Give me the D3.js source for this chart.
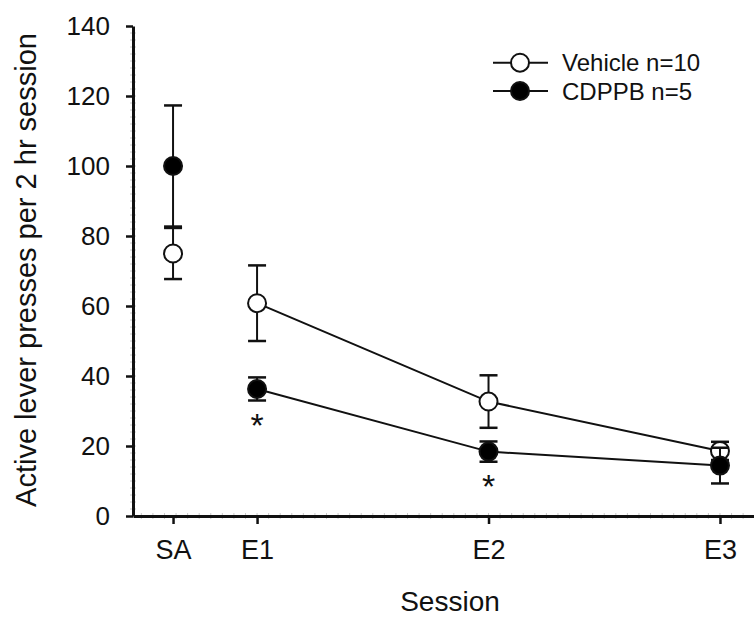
<!DOCTYPE html>
<html>
<head>
<meta charset="utf-8">
<script src="https://cdn.jsdelivr.net/npm/d3@7"></script>
<style>
  body { margin: 0; background: #fff; }
  text { font-family: "Liberation Sans", Arial, sans-serif; fill: #111; }
</style>
</head>
<body>
<script>
// session labels and their place on the session axis
const sessions = ["SA", "E1", "E2", "E3"];
const sessionPos = [0.637, 1, 2, 3];

// mean +/- SEM
const vehicleMean = [75, 60.8, 32.7, 18.6];
const vehicleSem = [7.3, 10.8, 7.5, 2.6];
const cdppbMean = [100, 36.3, 18.4, 14.4];
const cdppbSem = [17.3, 3.3, 2.9, 5.1];

// significance markers (CDPPB vs vehicle)
const starSessions = ["E1", "E2"];

const yTicks = [0, 20, 40, 60, 80, 100, 120, 140];
const legendLabels = ["Vehicle n=10", "CDPPB n=5"];

const width = 754, height = 618;

const svg = d3.select("body").append("svg")
    .attr("width", width)
    .attr("height", height);

const x = d3.scaleLinear().domain([0.464, 3.147]).range([133, 754]);
const y = d3.scaleLinear().domain([0, 140]).range([516, 26]);

const posOf = s => sessionPos[sessions.indexOf(s)];

// minor ticks (faint)
svg.append("g")
    .selectAll("line")
    .data(d3.range(0.5, 3.15, 0.05))
    .join("line")
    .attr("x1", d => x(d)).attr("x2", d => x(d))
    .attr("y1", y(0) - 3).attr("y2", y(0) + 3)
    .attr("stroke", "#c8c8c8").attr("stroke-width", 1);

svg.append("g")
    .selectAll("line")
    .data(d3.range(2, 140, 2))
    .join("line")
    .attr("x1", x.range()[0] - 3).attr("x2", x.range()[0] + 3)
    .attr("y1", d => y(d)).attr("y2", d => y(d))
    .attr("stroke", "#c8c8c8").attr("stroke-width", 1);

// y axis
const yAxis = svg.append("g")
    .attr("transform", `translate(${x.range()[0]},0)`)
    .call(d3.axisLeft(y).tickValues(yTicks).tickSize(7).tickPadding(16).tickSizeOuter(0));
yAxis.select(".domain").attr("stroke-width", 3).attr("stroke", "#111");
yAxis.selectAll(".tick line").attr("stroke-width", 2.5).attr("stroke", "#111");
yAxis.selectAll(".tick text")
    .style("font-size", "26px")
    .style("font-family", "Liberation Sans, Arial, sans-serif")
    .attr("fill", "#111");

// x axis
const xAxis = svg.append("g")
    .attr("transform", `translate(0,${y(0)})`)
    .call(d3.axisBottom(x).tickValues(sessionPos).tickFormat((d, i) => sessions[i])
        .tickSize(8).tickPadding(16).tickSizeOuter(0));
xAxis.select(".domain").attr("stroke-width", 3).attr("stroke", "#111");
xAxis.selectAll(".tick line").attr("stroke-width", 2.5).attr("stroke", "#111");
xAxis.selectAll(".tick text")
    .style("font-size", "27px")
    .style("font-family", "Liberation Sans, Arial, sans-serif")
    .attr("fill", "#111");

// axis titles
svg.append("text")
    .attr("x", 450).attr("y", 611)
    .attr("text-anchor", "middle")
    .style("font-size", "28px")
    .text("Session");

svg.append("text")
    .attr("transform", "translate(36,270) rotate(-90)")
    .attr("text-anchor", "middle")
    .style("font-size", "29px")
    .text("Active lever presses per 2 hr session");

// series
const series = [
    { name: "vehicle", mean: vehicleMean, sem: vehicleSem, fill: "#fff" },
    { name: "cdppb", mean: cdppbMean, sem: cdppbSem, fill: "#000" }
];

const capHalf = 9, r = 9;

series.forEach(s => {
    const pts = sessions.map((k, i) => ({ x: sessionPos[i], m: s.mean[i], e: s.sem[i], k }));
    const g = svg.append("g");

    // connecting line for the extinction sessions only
    g.append("path")
        .datum(pts.filter(p => p.k !== "SA"))
        .attr("fill", "none")
        .attr("stroke", "#111")
        .attr("stroke-width", 2)
        .attr("d", d3.line().x(p => x(p.x)).y(p => y(p.m)));

    // error bars
    const eb = g.selectAll(".eb").data(pts).join("g");
    eb.append("line")
        .attr("x1", p => x(p.x)).attr("x2", p => x(p.x))
        .attr("y1", p => y(p.m - p.e)).attr("y2", p => y(p.m + p.e))
        .attr("stroke", "#111").attr("stroke-width", 2);
    [-1, 1].forEach(sign => {
        eb.append("line")
            .attr("x1", p => x(p.x) - capHalf).attr("x2", p => x(p.x) + capHalf)
            .attr("y1", p => y(p.m + sign * p.e)).attr("y2", p => y(p.m + sign * p.e))
            .attr("stroke", "#111").attr("stroke-width", 2.5);
    });

    // markers
    g.selectAll("circle").data(pts).join("circle")
        .attr("cx", p => x(p.x)).attr("cy", p => y(p.m))
        .attr("r", r)
        .attr("fill", s.fill)
        .attr("stroke", "#111").attr("stroke-width", 2);
});

// asterisks under the CDPPB points
svg.append("g").selectAll("text")
    .data(starSessions)
    .join("text")
    .attr("x", d => x(posOf(d)))
    .attr("y", d => y(cdppbMean[sessions.indexOf(d)] - cdppbSem[sessions.indexOf(d)]) + 36)
    .attr("text-anchor", "middle")
    .style("font-size", "34px")
    .text("*");

// legend
const legend = svg.append("g");
legendLabels.forEach((lab, i) => {
    const ly = 62.7 + i * 28.3;
    legend.append("line")
        .attr("x1", 493).attr("x2", 548).attr("y1", ly).attr("y2", ly)
        .attr("stroke", "#111").attr("stroke-width", 2);
    legend.append("circle")
        .attr("cx", 520).attr("cy", ly).attr("r", r)
        .attr("fill", series[i].fill)
        .attr("stroke", "#111").attr("stroke-width", 2);
    legend.append("text")
        .attr("x", 562).attr("y", ly + 8.5)
        .style("font-size", "24px")
        .text(lab);
});
</script>
</body>
</html>
